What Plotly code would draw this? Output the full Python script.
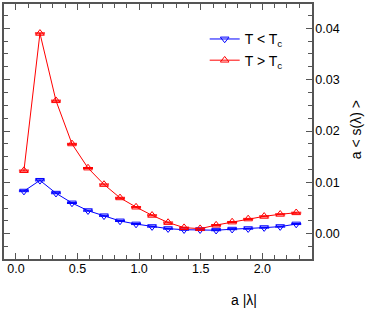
import plotly.graph_objects as go

# Data
a_lambda = [0.065, 0.195, 0.325, 0.455, 0.585, 0.715, 0.845, 0.975, 1.105,
            1.235, 1.365, 1.495, 1.625, 1.755, 1.885, 2.015, 2.145, 2.275]
s_below = [0.0083, 0.0104, 0.0079, 0.0060, 0.0045, 0.0035, 0.0025, 0.0019, 0.0014,
           0.0010, 0.0008, 0.0008, 0.0007, 0.0009, 0.0010, 0.0012, 0.0014, 0.0019]
s_above = [0.0123, 0.0390, 0.0259, 0.0175, 0.0128, 0.0096, 0.0070, 0.0052, 0.0036,
           0.0022, 0.0012, 0.0010, 0.0017, 0.0023, 0.0029, 0.0034, 0.0038, 0.0041]
err_below = [0.0001] * len(a_lambda)
err_above = [0.0001] * len(a_lambda)

x_ticks = [0.0, 0.5, 1.0, 1.5, 2.0]
x_tick_labels = ["0.0", "0.5", "1.0", "1.5", "2.0"]
y_ticks = [0.00, 0.01, 0.02, 0.03, 0.04]
y_tick_labels = ["0.00", "0.01", "0.02", "0.03", "0.04"]

FONT = "Liberation Sans, Arial, sans-serif"
AXIS_COLOR = "#555555"

fig = go.Figure()
fig.add_trace(go.Scatter(
    x=a_lambda, y=s_below, mode="lines+markers", name="T < T<sub>c</sub>",
    line=dict(color="#0000ff", width=1),
    marker=dict(symbol="triangle-down-open", size=7.5, color="#0000ff", line=dict(width=1)),
    error_y=dict(type="data", array=err_below, color="#0000ff", thickness=1, width=5),
))
fig.add_trace(go.Scatter(
    x=a_lambda, y=s_above, mode="lines+markers", name="T > T<sub>c</sub>",
    line=dict(color="#ff0000", width=1),
    marker=dict(symbol="triangle-up-open", size=7.5, color="#ff0000", line=dict(width=1)),
    error_y=dict(type="data", array=err_above, color="#ff0000", thickness=1, width=5),
))

fig.update_layout(
    width=365, height=311,
    margin=dict(l=2, r=53, t=3, b=52),
    paper_bgcolor="white", plot_bgcolor="white",
    font=dict(family=FONT, size=12.5, color="black"),
    showlegend=True,
    legend=dict(x=(204 - 2) / 310, y=0.924, xanchor="left", yanchor="top",
                bgcolor="rgba(0,0,0,0)", font=dict(size=14, family=FONT),
                tracegroupgap=0, itemwidth=30),
    xaxis=dict(
        range=[-0.0968, 2.4032], tickvals=x_ticks, ticktext=x_tick_labels,
        ticks="inside", ticklen=6, tickwidth=1, tickcolor=AXIS_COLOR,
        showline=True, linecolor=AXIS_COLOR, linewidth=1.5, mirror="ticks",
        showgrid=False, zeroline=False, ticklabelstandoff=-3,
        minor=dict(dtick=0.1, tick0=0, ticks="inside", ticklen=4, tickcolor=AXIS_COLOR, showgrid=False),
    ),
    yaxis=dict(
        range=[-0.0049, 0.04471], tickvals=y_ticks, ticktext=y_tick_labels, side="right",
        ticks="inside", ticklen=6, tickwidth=1, tickcolor=AXIS_COLOR,
        showline=True, linecolor=AXIS_COLOR, linewidth=1.5, mirror="ticks",
        showgrid=False, zeroline=False, ticklabelstandoff=-1,
        minor=dict(dtick=0.0025, tick0=0, ticks="inside", ticklen=4, tickcolor=AXIS_COLOR, showgrid=False),
    ),
    annotations=[
        dict(text="a |λ|", xref="paper", yref="paper", x=(244 - 2) / 310, y=-(300 - 259) / 256,
             xanchor="center", yanchor="middle", showarrow=False, font=dict(size=14, family=FONT)),
        dict(text="a < s(λ) >", xref="paper", yref="paper", x=1 + (356 - 312) / 310, y=(259 - 129) / 256,
             xanchor="center", yanchor="middle", textangle=-90, showarrow=False,
             font=dict(size=14, family=FONT)),
    ],
)

fig.write_html("out.html", config={"displayModeBar": False},
               post_script="document.body.style.margin='0';")
